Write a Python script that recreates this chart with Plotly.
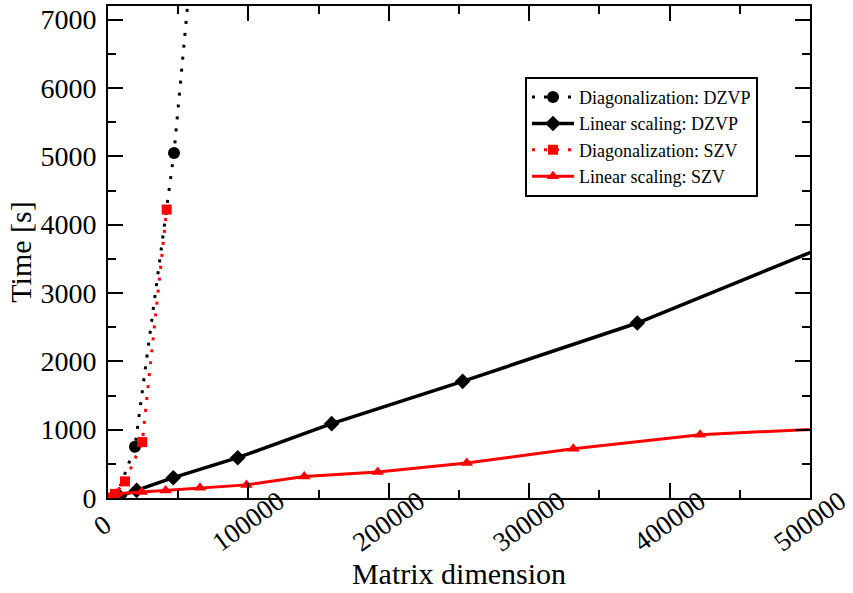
import plotly.graph_objects as go

# ---- data ----
diag_dzvp_x = [5800, 19200, 47000, 78200]
diag_dzvp_y = [10, 750, 5050, 12000]

lin_dzvp_x = [8000, 20400, 46500, 92400, 159300, 252600, 377000, 600000]
lin_dzvp_y = [25, 111, 297, 590, 1088, 1707, 2561, 4430]

diag_szv_x = [1000, 5000, 12100, 24400, 41800]
diag_szv_y = [5, 60, 243, 818, 4221]

lin_szv_x = [1000, 6200, 24000, 41100, 65500, 98600, 139800, 192100, 255500, 331400, 421700, 560000]
lin_szv_y = [5, 63, 86, 111, 151, 192, 316, 379, 511, 722, 927, 1063]

x_tickvals = [0, 100000, 200000, 300000, 400000, 500000]
x_ticktext = ["0", "100000", "200000", "300000", "400000", "500000"]
y_tickvals = [0, 1000, 2000, 3000, 4000, 5000, 6000, 7000]

names = ["Diagonalization: DZVP", "Linear scaling: DZVP",
         "Diagonalization: SZV", "Linear scaling: SZV"]

FONT = "Liberation Serif"
FS = "\u2007"


def pad(t, n=6):
    k = n - len(t)
    left = k // 2
    return FS * left + t + FS * (k - left)


fig = go.Figure()
fig.add_trace(go.Scatter(
    x=diag_dzvp_x, y=diag_dzvp_y, name=names[0], mode="lines+markers",
    line=dict(color="black", width=3, dash="3px,9px"),
    marker=dict(symbol="circle", size=12, color="black")))
fig.add_trace(go.Scatter(
    x=lin_dzvp_x, y=lin_dzvp_y, name=names[1], mode="lines+markers",
    line=dict(color="black", width=3.5),
    marker=dict(symbol="diamond", size=12, color="black")))
fig.add_trace(go.Scatter(
    x=diag_szv_x, y=diag_szv_y, name=names[2], mode="lines+markers",
    line=dict(color="red", width=3, dash="3px,9px"),
    marker=dict(symbol="square", size=10, color="red")))
fig.add_trace(go.Scatter(
    x=lin_szv_x, y=lin_szv_y, name=names[3], mode="lines+markers",
    line=dict(color="red", width=3),
    marker=dict(symbol="triangle-up", size=11, color="red")))

axis_common = dict(
    showgrid=False, zeroline=False, showline=True, linecolor="black", linewidth=2,
    mirror="ticks", ticks="inside", ticklen=15, tickwidth=2, tickcolor="black",
)

fig.update_xaxes(
    range=[0, 500000], tickvals=x_tickvals, ticktext=[pad(t) for t in x_ticktext],
    tickangle=-36, ticklabelshift=30, ticklabelstandoff=-25, ticklabeloverflow="allow",
    tickfont=dict(family=FONT, size=27, color="black"),
    minor=dict(dtick=50000, tick0=0, ticks="inside", ticklen=8, tickwidth=2, tickcolor="black"),
    title=dict(text="Matrix dimension", font=dict(family=FONT, size=30, color="black"), standoff=4),
    **axis_common)
fig.update_yaxes(
    range=[0, 7200], tickvals=y_tickvals, ticklabelstandoff=4,
    tickfont=dict(family=FONT, size=28, color="black"),
    minor=dict(dtick=500, tick0=0, ticks="inside", ticklen=8, tickwidth=2, tickcolor="black"),
    title=dict(text="Time [s]", font=dict(family=FONT, size=30, color="black"), standoff=0),
    **axis_common)

fig.update_layout(
    width=853, height=593,
    margin=dict(l=108, r=43, t=6, b=95, autoexpand=False),
    plot_bgcolor="white", paper_bgcolor="white",
    font=dict(family=FONT, color="black"),
    legend=dict(x=0.594, y=0.856, xanchor="left", yanchor="top",
                bgcolor="white", bordercolor="black", borderwidth=2,
                font=dict(family=FONT, size=18, color="black"),
                tracegroupgap=0, itemwidth=42),
    showlegend=True,
)

fig.write_html("out.html", config={"displayModeBar": False},
               post_script="document.body.style.margin='0px';")
